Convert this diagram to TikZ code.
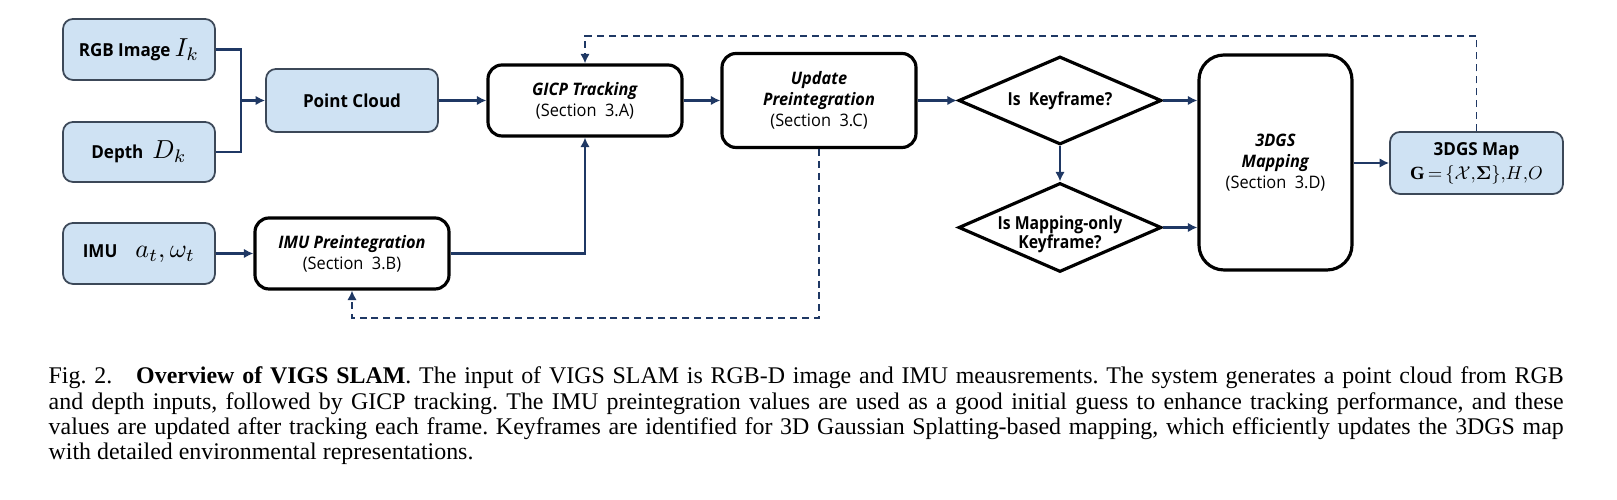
\documentclass[tikz,border=0pt]{standalone}
\usepackage{fontspec}
\usepackage{amsmath,graphicx}
\setmainfont{Liberation Serif}
\newfontfamily\dgfont[FakeStretch=0.95]{Open Sans}
\newfontfamily\dgnarrow[FakeStretch=0.88]{Open Sans}
\usetikzlibrary{arrows.meta,calc,shapes.geometric}
\definecolor{boxblue}{RGB}{207,226,243}
\definecolor{navy}{RGB}{31,56,100}
\definecolor{edgegray}{RGB}{60,72,88}
\newcommand{\mth}[2][.74]{\scalebox{#1}{\fontsize{10}{12}\selectfont$#2$}}

\begin{document}
\frenchspacing
\begin{tikzpicture}[x=.1mm,y=-.1mm,
 inbox/.style={draw=edgegray,line width=.5pt,fill=boxblue,rounded corners=1mm,inner sep=0pt,
  align=center,font=\dgfont\bfseries\fontsize{5.1}{6.8}\selectfont},
 stepbox/.style={draw,line width=.9pt,fill=white,rounded corners=1.4mm,inner sep=0pt,
  align=center,font=\dgfont\fontsize{4.9}{5.9}\selectfont},
 query/.style={diamond,draw,line width=.9pt,inner sep=0pt},
 qtext/.style={align=center,inner sep=0pt,yshift=-2pt,font=\dgnarrow\bfseries\fontsize{5.1}{5.4}\selectfont},
 link/.style={draw=navy,line width=.8pt},
 flow/.style={link,-{Latex[length=2.7pt,width=2.7pt]}},
 back/.style={flow,line width=.55pt,dash pattern=on 2pt off 1.4pt}]
 \useasboundingbox (0,0) rectangle (1617,500);
 % inputs
 \node[inbox,minimum width=15.2mm,minimum height=6.1mm] (rgb) at (139,49.5) {RGB Image \mth{I_k}};
 \node[inbox,minimum width=15.2mm,minimum height=6mm] (depth) at (139,152) {Depth\enspace\mth{D_k}};
 \node[inbox,minimum width=15.2mm,minimum height=6.1mm] (imu) at (139,253.5) {IMU\quad\mth{a_t,\omega_t}};
 \node[inbox,minimum width=17.2mm,minimum height=6.3mm] (pcl) at (352,100.5) {Point Cloud};
 % processing blocks
 \node[stepbox,minimum width=19.4mm,minimum height=7.1mm] (imupre) at (352,253.5)
  {\textbf{\textit{IMU Preintegration}}\\(Section~~3.B)};
 \node[stepbox,minimum width=19.4mm,minimum height=7.1mm] (gicp) at (585,100.5)
  {\textbf{\textit{GICP Tracking}}\\(Section~~3.A)};
 \node[stepbox,minimum width=19.4mm,minimum height=9.4mm] (upd) at (819,100.5)
  {\textbf{\textit{Update}}\\\textbf{\textit{Preintegration}}\\(Section~~3.C)};
 \node[query,minimum width=20.3mm,minimum height=8.8mm,
  label={[qtext,yshift=2pt]center:Is~~Keyframe?}] (kf) at (1060,100.5) {};
 \node[query,minimum width=20.3mm,minimum height=8.9mm,
  label={[qtext]center:Is Mapping-only\\Keyframe?}] (mok) at (1060,227.5) {};
 \node[stepbox,rounded corners=2.5mm,minimum width=15.3mm,minimum height=21.5mm] (gs) at (1275.5,162.5)
  {\textbf{\textit{3DGS}}\\\textbf{\textit{Mapping}}\\(Section~~3.D)};
 \node[inbox,minimum width=17.3mm,minimum height=6.2mm] (map) at (1476.5,163)
  {3DGS Map\\\mth[.53]{\mathbf{G}\,{=}\,\{\mathcal{X}{,}\boldsymbol{\Sigma}\}{,}H{,}O}};
 % connectors
 \coordinate (join) at (241,100.5);
 \draw[link] (rgb.east) -| (join) |- (depth.east);
 \draw[flow] (join) -- (pcl.west);
 \draw[flow] (pcl) -- (gicp);
 \draw[flow] (imu) -- (imupre);
 \draw[flow] (imupre.east) -| (gicp.south);
 \draw[flow] (gicp) -- (upd);
 \draw[flow] (upd) -- (kf);
 \draw[flow] (kf) -- (mok);
 \draw[flow] (kf.east) -- (kf.east -| gs.west);
 \draw[flow] (mok.east) -- (mok.east -| gs.west);
 \draw[flow] (gs.east |- map.west) -- (map.west);
 % feedback
 \coordinate (top) at (0,36);
 \coordinate (bot) at (0,318);
 \draw[back] (map.north) |- (top -| gicp.north) -- (gicp.north);
 \draw[back] (upd.south) |- (bot -| imupre.south) -- (imupre.south);
 % caption
 \node[anchor=north west,inner sep=0pt,text width=151.5mm,align=justify,
  font=\fontsize{6.8}{5.97}\selectfont] (cap) at (48,366)
  {Fig.~2.\quad\textbf{Overview of VIGS SLAM}. The input of VIGS SLAM is RGB-D image and IMU meausrements. The system generates a point cloud from RGB\linebreak
  and depth inputs, followed by GICP tracking. The IMU preintegration values are used as a good initial guess to enhance tracking performance, and these\linebreak
  values are updated after tracking each frame. Keyframes are identified for 3D Gaussian Splatting-based mapping, which efficiently updates the 3DGS map\linebreak
  with detailed environmental representations.};
\end{tikzpicture}
\end{document}
